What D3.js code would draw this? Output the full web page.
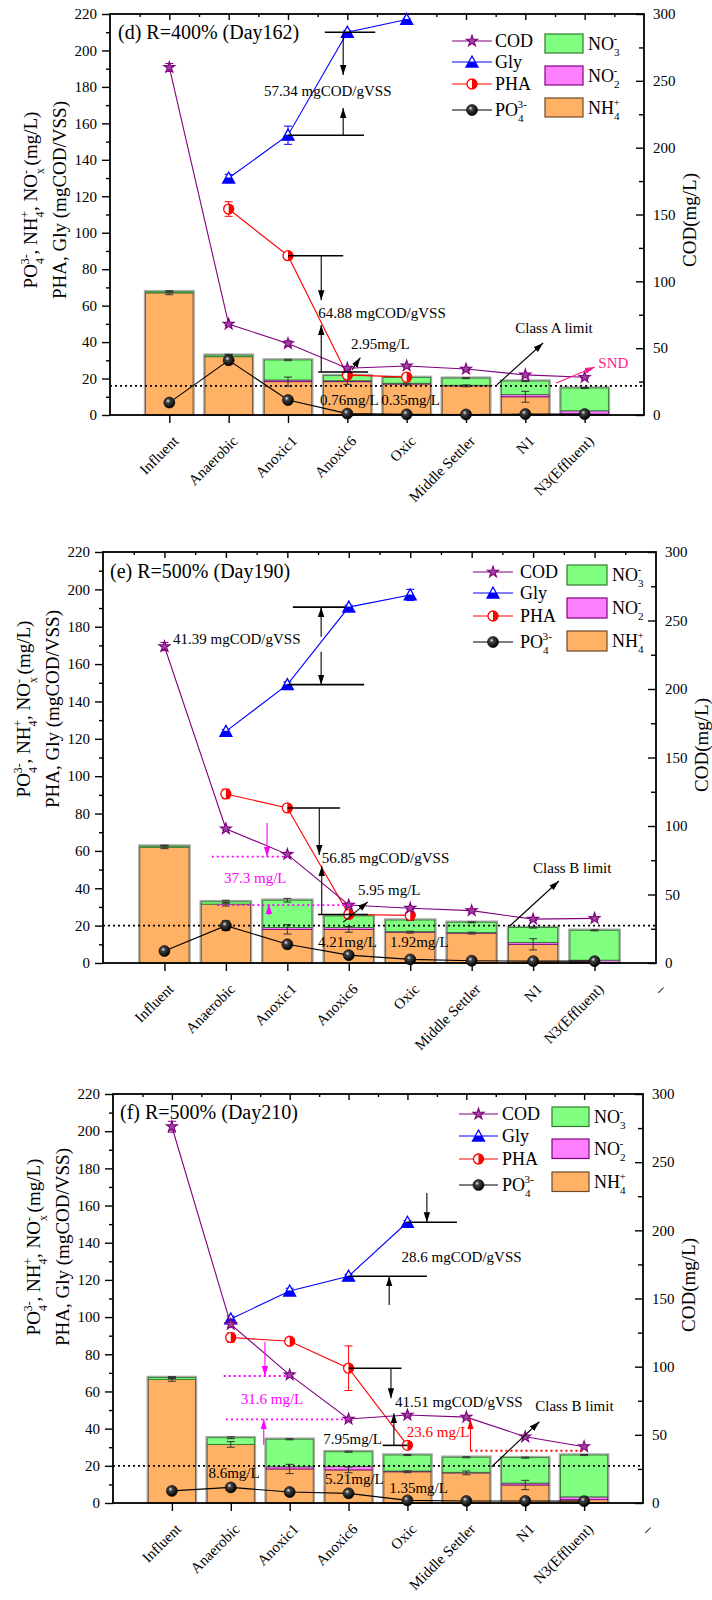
<!DOCTYPE html>
<html>
<head>
<meta charset="utf-8">
<script src="https://cdn.jsdelivr.net/npm/d3@7"></script>
<style>
  body { margin: 0; background: #fff; }
  svg { display: block; }
  text { font-family: "Liberation Serif", "Times New Roman", "DejaVu Serif", serif; fill: #000; }
</style>
</head>
<body>
<svg id="chart" width="712" height="1600" font-family="Liberation Serif, Times New Roman, DejaVu Serif, serif"></svg>
<script>
const cats = ["Influent", "Anaerobic", "Anoxic1", "Anoxic6", "Oxic", "Middle Settler", "N1", "N3(Effluent)"];
const leftTicks = [0, 20, 40, 60, 80, 100, 120, 140, 160, 180, 200, 220];
const rightTicks = [0, 50, 100, 150, 200, 250, 300];

// (d) R=400% Day162
const dNH4 = [67, 32, 18.3, 18.3, 17, 16, 10, 0.5];
const dNO2 = [0, 0, 0.9, 0.5, 0.4, 0.3, 1.2, 1.8];
const dNO3 = [0.6, 0.8, 11, 2.8, 3.2, 3.9, 7.4, 12.5];
const dNH4Err = [1, 1, 2.5, 1.5, 0.5, 0.5, 3, 0.3];
const dTotErr = [0.5, 0.5, 0.4, 0.5, 0.3, 0.3, 0.3, 0.3];
const dPO4 = [6.8, 30, 8.2, 0.76, 0.35, 0.3, 0.5, 0.5];
const dPO4Err = [0.5, 1.5, 1, 0.3, 0.2, 0.2, 0.2, 0.2];
const dPHA = [null, 113, 87.4, 22, 20.8, null, null, null];
const dPHAErr = [0, 4, 1, 1, 1, 0, 0, 0];
const dGly = [null, 130, 153.5, 210, 217, null, null, null];
const dGlyErr = [0, 2, 5, 1, 0.5, 0, 0, 0];
const dCOD = [260, 68, 53.5, 35, 36.7, 34.4, 30, 28.2];
const dCODErr = [3, 1, 2, 1, 1, 1, 1, 1];
const dLimit = 16;

// (e) R=500% Day190
const eNH4 = [62, 31.5, 18, 18, 16.5, 16, 10, 0.3];
const eNO2 = [0, 0, 1, 1, 0.3, 0.3, 1, 1.2];
const eNO3 = [0.6, 1.3, 14.6, 6.2, 6.2, 5.5, 8, 16];
const eNH4Err = [0.8, 1, 2.5, 1.5, 0.5, 0.5, 3, 0.3];
const eTotErr = [0.5, 0.8, 1, 0.5, 0.3, 0.3, 0.3, 0.3];
const ePO4 = [6.4, 20, 10, 4.21, 1.92, 1.2, 1, 1];
const ePO4Err = [0.5, 2.5, 1, 0.5, 0.3, 0.2, 0.2, 0.2];
const ePHA = [null, 90.5, 83, 26, 25.5, null, null, null];
const ePHAErr = [0, 2.5, 1, 1, 1, 0, 0, 0];
const eGly = [null, 124, 149, 190.5, 197, null, null, null];
const eGlyErr = [0, 1, 1.5, 1, 3, 0, 0, 0];
const eCOD = [231, 98, 79.3, 42.3, 40, 38.2, 32, 32.6];
const eCODErr = [3, 1, 1.5, 1, 1, 1, 1, 1];
const eLimit = 20;

// (f) R=500% Day210
const fNH4 = [66.5, 31.5, 18.3, 17.8, 16.8, 16.2, 9.7, 1.8];
const fNO2 = [0, 0, 1.2, 1.8, 0.4, 0.3, 1, 1.5];
const fNO3 = [1, 3.6, 14.8, 8, 8.6, 8.1, 13.7, 22.5];
const fNH4Err = [1, 1.5, 2.5, 1.5, 0.5, 1, 2.5, 0.5];
const fTotErr = [0.5, 0.5, 0.3, 0.3, 0.3, 0.3, 0.3, 0.3];
const fPO4 = [6.5, 8.4, 5.9, 5.2, 1.4, 1.1, 1.1, 1];
const fPO4Err = [0.5, 0.5, 0.5, 0.5, 0.3, 0.2, 0.2, 0.2];
const fPHA = [null, 89, 87, 72.5, 31, null, null, null];
const fPHAErr = [0, 2.5, 1, 12, 1, 0, 0, 0];
const fGly = [null, 99, 114, 122, 151, null, null, null];
const fGlyErr = [0, 1.5, 1.5, 1, 1, 0, 0, 0];
const fCOD = [276, 131, 94, 61.6, 64.5, 63, 48.6, 41.3];
const fCODErr = [4, 2, 1.5, 1, 1, 1, 1, 1];
const fLimit = 20;

const FONT = "Liberation Serif, Times New Roman, DejaVu Serif, serif";
const C = { cod: "#800080", gly: "#0000ff", pha: "#ff0000", po4: "#000", mag: "#ff00ff", snd: "#ff1a8c" };

const svg = d3.select("#chart");
const defs = svg.append("defs");
const grad = defs.append("radialGradient").attr("id", "ball")
  .attr("cx", "38%").attr("cy", "35%").attr("r", "65%");
grad.append("stop").attr("offset", "0%").attr("stop-color", "#eee");
grad.append("stop").attr("offset", "28%").attr("stop-color", "#444");
grad.append("stop").attr("offset", "100%").attr("stop-color", "#000");
Object.entries({ k: "#000", m: C.mag, r: C.pha, s: C.snd }).forEach(([k, col]) => {
  defs.append("marker").attr("id", "ah-" + k).attr("viewBox", "0 -4 10 8")
    .attr("markerUnits", "userSpaceOnUse").attr("markerWidth", 10).attr("markerHeight", 8)
    .attr("refX", 10).attr("refY", 0).attr("orient", "auto")
    .append("path").attr("d", "M0,-3.2L10,0L0,3.2Z").attr("fill", col);
});

function rich(t, segs, fs) {
  let cur = 0;
  for (const [s, k, dx] of segs) {
    const off = k === "sub" ? fs * 0.35 : k === "sup" ? -fs * 0.42 : 0;
    const ts = t.append("tspan").attr("dy", off - cur).attr("font-size", k ? fs * 0.62 : fs).text(s);
    if (dx) ts.attr("dx", dx);
    cur = off;
  }
}

function star(g, cx, cy, col) {
  g.append("path").attr("d", d3.symbol(d3.symbolStar).size(38)())
    .attr("transform", `translate(${cx},${cy})`)
    .attr("fill", "#a048a0").attr("stroke", col).attr("stroke-width", 1.1);
}
function tri(g, cx, cy, col) {
  g.append("path").attr("d", `M${cx},${cy - 6}L${cx + 6},${cy + 5}L${cx - 6},${cy + 5}Z`)
    .attr("fill", "#fff").attr("stroke", col).attr("stroke-width", 1.3);
  g.append("path").attr("d", `M${cx - 3},${cy - 0.5}L${cx + 3},${cy - 0.5}L${cx + 6},${cy + 5}L${cx - 6},${cy + 5}Z`)
    .attr("fill", col);
}
function half(g, cx, cy, col) {
  g.append("circle").attr("cx", cx).attr("cy", cy).attr("r", 5)
    .attr("fill", "#fff").attr("stroke", col).attr("stroke-width", 1.3);
  g.append("path").attr("d", `M${cx},${cy - 5}A5,5 0 0 1 ${cx},${cy + 5}Z`).attr("fill", col);
}
function ball(g, cx, cy) {
  g.append("circle").attr("cx", cx).attr("cy", cy).attr("r", 5.5)
    .attr("fill", "url(#ball)").attr("stroke", "#000").attr("stroke-width", 0.6);
}
const markFns = { cod: star, gly: tri, pha: half, po4: (g, cx, cy) => ball(g, cx, cy) };

const PO4seg = [["PO"], ["4", "sub"], ["3-", "sup", -6]];
const NH4seg = [["NH"], ["4", "sub"], ["+", "sup", -6]];
const NO3seg = [["NO"], ["3", "sub"], ["-", "sup", -6]];
const NO2seg = [["NO"], ["2", "sub"], ["-", "sup", -6]];

const panels = [
  {
    title: "(d) R=400% (Day162)", L: 110, R: 644, T: 14, B: 415, dash: false,
    nh4: dNH4, no2: dNO2, no3: dNO3, nh4Err: dNH4Err, totErr: dTotErr,
    po4: dPO4, po4Err: dPO4Err, pha: dPHA, phaErr: dPHAErr, gly: dGly, glyErr: dGlyErr,
    cod: dCOD, codErr: dCODErr, limit: dLimit,
    titlePos: [118, 39], yTitleC: 200, y2TitleC: 220,
    leg: { lx: [452, 492], tx: 495, sy: [41, 62, 84, 110], bx: [545, 583], by: [34, 66, 98], bh: 19, btx: 588 },
    notes: [
      ["line", 3.62, 210, 4.47, 210], ["line", 3, 153.5, 4.28, 153.5],
      ["arrow", 3.93, 210, 3.93, 186.5], ["arrow", 3.93, 153.5, 3.93, 168.4],
      ["text", 3.67, 175, "57.34 mgCOD/gVSS", "#000", "middle"],
      ["line", 3, 87.4, 3.93, 87.4], ["line", 3.51, 23.6, 4.35, 23.6],
      ["arrow", 3.56, 87.4, 3.56, 63], ["arrow", 3.56, 23.6, 3.56, 49.4],
      ["text", 3.51, 53.2, "64.88 mgCOD/gVSS"],
      ["text", 4.06, 36.2, "2.95mg/L"], ["arrow", 4.08, 24.7, 4.22, 31.5],
      ["text", 3.54, 5.5, "0.76mg/L"], ["text", 4.57, 5.5, "0.35mg/L"],
      ["text", 6.83, 45, "Class A limit"], ["arrow", 6.52, 16.5, 7.3, 39.5],
      ["text", 8.23, 25.8, "SND", C.snd], ["arrow", 7.52, 17.6, 8.17, 26.3, C.snd, "s"]
    ]
  },
  {
    title: "(e) R=500% (Day190)", L: 103, R: 656, T: 552, B: 963, dash: true,
    nh4: eNH4, no2: eNO2, no3: eNO3, nh4Err: eNH4Err, totErr: eTotErr,
    po4: ePO4, po4Err: ePO4Err, pha: ePHA, phaErr: ePHAErr, gly: eGly, glyErr: eGlyErr,
    cod: eCOD, codErr: eCODErr, limit: eLimit,
    titlePos: [110, 578], yTitleC: 709, y2TitleC: 745,
    leg: { lx: [473, 513], tx: 520, sy: [572, 593, 616, 642], bx: [567, 607], by: [565, 598, 631], bh: 20, btx: 612 },
    notes: [
      ["line", 3.09, 190.5, 3.94, 190.5], ["line", 3, 149, 4.25, 149],
      ["arrow", 3.55, 174.7, 3.55, 190.5], ["arrow", 3.55, 166.6, 3.55, 149],
      ["text", 1.14, 171, "41.39 mgCOD/gVSS"],
      ["line", 3, 83, 3.86, 83], ["line", 3.5, 26, 4.31, 26],
      ["arrow", 3.52, 83, 3.52, 57.8], ["arrow", 3.56, 26, 3.56, 51.9],
      ["text", 3.56, 53.5, "56.85 mgCOD/gVSS"],
      ["dots", 1.77, 56.9, 3.0, 56.9, C.mag], ["dots", 1.86, 31, 4.07, 31, C.mag],
      ["arrow", 2.67, 74.9, 2.67, 56.9, C.mag, "m"], ["arrow", 2.7, 25.5, 2.7, 31.5, C.mag, "m"],
      ["text", 1.97, 42.7, "37.3 mg/L", C.mag],
      ["text", 4.15, 36.4, "5.95 mg/L"], ["arrow", 3.91, 21.9, 4.31, 32.7],
      ["text", 3.5, 8.7, "4.21mg/L"], ["text", 4.67, 8.7, "1.92mg/L"],
      ["text", 7.0, 48.2, "Class B limit"], ["arrow", 6.62, 19.8, 7.42, 43.9]
    ]
  },
  {
    title: "(f) R=500% (Day210)", L: 113, R: 643, T: 1094, B: 1503, dash: true,
    nh4: fNH4, no2: fNO2, no3: fNO3, nh4Err: fNH4Err, totErr: fTotErr,
    po4: fPO4, po4Err: fPO4Err, pha: fPHA, phaErr: fPHAErr, gly: fGly, glyErr: fGlyErr,
    cod: fCOD, codErr: fCODErr, limit: fLimit,
    titlePos: [120, 1119], yTitleC: 1247, y2TitleC: 1285,
    leg: { lx: [459, 498], tx: 502, sy: [1114, 1136, 1159, 1185], bx: [552, 589], by: [1107, 1139, 1172], bh: 19.5, btx: 594 },
    notes: [
      ["line", 5, 151, 5.84, 151], ["line", 4, 122, 5.33, 122],
      ["arrow", 5.33, 166.8, 5.33, 151], ["arrow", 4.69, 106.5, 4.69, 122],
      ["text", 4.9, 129.8, "28.6 mgCOD/gVSS"],
      ["dots", 1.88, 68.3, 3, 68.3, C.mag], ["dots", 1.92, 45, 4, 45, C.mag],
      ["arrow", 2.58, 86.8, 2.58, 68.3, C.mag, "m"], ["arrow", 2.56, 31.2, 2.56, 45, C.mag, "m"],
      ["text", 2.17, 53.3, "31.6 mg/L", C.mag],
      ["line", 4, 72.5, 4.9, 72.5], ["line", 4.58, 31, 5, 31],
      ["arrow", 4.72, 72.5, 4.72, 56.3], ["arrow", 4.77, 31, 4.77, 48.3],
      ["text", 4.79, 51.5, "41.51 mgCOD/gVSS"],
      ["text", 4.99, 35.3, "23.6 mg/L", C.pha],
      ["dots", 6.07, 28.1, 8, 28.1, C.pha], ["arrow", 6.07, 28.1, 6.07, 45, C.pha, "r"],
      ["text", 3.57, 31.7, "7.95mg/L"], ["text", 1.62, 13.3, "8.6mg/L"],
      ["text", 3.6, 10.2, "5.21mg/L"], ["text", 4.69, 5.5, "1.35mg/L"],
      ["text", 7.17, 49.6, "Class B limit"], ["arrow", 6.43, 19.5, 7.24, 43.7]
    ]
  }
];

function errBar(g, cx, y0, y1, col, cap) {
  if (Math.abs(y1 - y0) < 0.5) return;
  g.append("line").attr("x1", cx).attr("x2", cx).attr("y1", y0).attr("y2", y1).attr("stroke", col).attr("stroke-width", 1);
  [y0, y1].forEach(yy => g.append("line").attr("x1", cx - cap).attr("x2", cx + cap)
    .attr("y1", yy).attr("y2", yy).attr("stroke", col).attr("stroke-width", 1));
}

function drawPanel(p) {
  const x = d3.scaleLinear().domain([0, 9]).range([p.L, p.R]);
  const y = d3.scaleLinear().domain([0, 220]).range([p.B, p.T]);
  const y2 = d3.scaleLinear().domain([0, 300]).range([p.B, p.T]);
  const bw = (x(1) - x(0)) * 0.8;
  const g = svg.append("g");

  // stacked bars
  const rows = cats.map((c, i) => ({ i, nh4: p.nh4[i], no2: p.no2[i], no3: p.no3[i] }));
  const stacked = d3.stack().keys(["nh4", "no2", "no3"])(rows);
  const fills = { nh4: "#ffb266", no2: "#ff80ff", no3: "#80ff80" };
  const strokes = { nh4: "#6e4a28", no2: "#800080", no3: "#2f7a2f" };
  rows.forEach(r => {
    const top = r.nh4 + r.no2 + r.no3;
    g.append("rect").attr("x", x(r.i + 1) - bw / 2 - 1).attr("y", y(top) - 1)
      .attr("width", bw + 2).attr("height", y(0) - y(top) + 1)
      .attr("fill", "none").attr("stroke", "#aaa").attr("stroke-width", 1.6);
  });
  stacked.forEach(s => {
    g.selectAll(null).data(s.filter(d => d[1] - d[0] > 0)).enter().append("rect")
      .attr("x", d => x(d.data.i + 1) - bw / 2)
      .attr("y", d => y(d[1]))
      .attr("width", bw)
      .attr("height", d => y(d[0]) - y(d[1]))
      .attr("fill", fills[s.key]).attr("stroke", strokes[s.key]).attr("stroke-width", 0.9);
  });
  rows.forEach(r => {
    const cx = x(r.i + 1), top = r.nh4 + r.no2 + r.no3;
    errBar(g, cx, y(r.nh4 - p.nh4Err[r.i]), y(r.nh4 + p.nh4Err[r.i]), "#333", 4);
    errBar(g, cx, y(top - p.totErr[r.i]), y(top + p.totErr[r.i]), "#333", 4);
  });

  // limit line
  g.append("line").attr("x1", x(0)).attr("x2", x(9)).attr("y1", y(p.limit)).attr("y2", y(p.limit))
    .attr("stroke", "#000").attr("stroke-width", 1.8).attr("stroke-dasharray", "2,3");

  // axes
  const ax = g.append("g").attr("transform", `translate(${p.L},0)`)
    .call(d3.axisLeft(y).tickValues(leftTicks).tickSize(8).tickPadding(5));
  g.append("g").attr("transform", `translate(${p.L},0)`)
    .call(d3.axisLeft(y).tickValues(d3.range(10, 220, 20)).tickSize(4).tickFormat(""));
  const ax2 = g.append("g").attr("transform", `translate(${p.R},0)`)
    .call(d3.axisRight(y2).tickValues(rightTicks).tickSize(-8).tickPadding(9));
  g.append("g").attr("transform", `translate(${p.R},0)`)
    .call(d3.axisRight(y2).tickValues(d3.range(25, 300, 50)).tickSize(-5).tickFormat(""));
  g.append("g").attr("transform", `translate(0,${p.B})`)
    .call(d3.axisBottom(x).tickValues(d3.range(1, 9)).tickSize(8).tickFormat(""));
  g.append("g").attr("transform", `translate(0,${p.T})`)
    .call(d3.axisBottom(x).tickValues(d3.range(1, 9)).tickSize(6).tickFormat(""));
  g.append("g").attr("transform", `translate(0,${p.T})`)
    .call(d3.axisBottom(x).tickValues(d3.range(0.5, 9, 1)).tickSize(3).tickFormat(""));
  g.selectAll(".domain").remove();
  g.selectAll(".tick line").attr("stroke", "#000").attr("stroke-width", 1.4);
  [ax, ax2].forEach(a => a.attr("font-family", FONT).attr("font-size", 15));
  g.selectAll(".tick text").attr("fill", "#000");
  g.append("rect").attr("x", p.L).attr("y", p.T).attr("width", p.R - p.L).attr("height", p.B - p.T)
    .attr("fill", "none").attr("stroke", "#000").attr("stroke-width", 1.8);

  // category labels
  const labs = p.dash ? cats.concat(["–"]) : cats;
  labs.forEach((c, i) => {
    g.append("text").attr("transform", `translate(${x(i + 1) + 10},${p.B + 27}) rotate(-45)`)
      .attr("text-anchor", "end").attr("font-size", 15).text(c);
  });

  // axis titles
  const t1 = g.append("text").attr("text-anchor", "middle")
    .attr("transform", `translate(${p.L - 73},${p.yTitleC}) rotate(-90)`);
  rich(t1, PO4seg.concat([[", NH"], ["4", "sub"], ["+", "sup", -6], [", NO"], ["x", "sub"], ["-", "sup", -6], ["\u00a0(mg/L)"]]), 19);
  g.append("text").attr("text-anchor", "middle").attr("font-size", 19)
    .attr("transform", `translate(${p.L - 44},${p.yTitleC}) rotate(-90)`).text("PHA, Gly (mgCOD/VSS)");
  g.append("text").attr("text-anchor", "middle").attr("font-size", 19)
    .attr("transform", `translate(${p.R + 52},${p.y2TitleC}) rotate(-90)`).text("COD(mg/L)");

  // series lines with markers
  const series = [
    { k: "po4", v: p.po4, e: p.po4Err, s: y, col: C.po4 },
    { k: "pha", v: p.pha, e: p.phaErr, s: y, col: C.pha },
    { k: "gly", v: p.gly, e: p.glyErr, s: y, col: C.gly },
    { k: "cod", v: p.cod, e: p.codErr, s: y2, col: C.cod }
  ];
  series.forEach(se => {
    const line = d3.line().defined(v => v != null).x((v, i) => x(i + 1)).y(v => se.s(v));
    g.append("path").attr("d", line(se.v)).attr("fill", "none").attr("stroke", se.col).attr("stroke-width", 1.1);
    se.v.forEach((v, i) => {
      if (v == null) return;
      errBar(g, x(i + 1), se.s(v - se.e[i]), se.s(v + se.e[i]), se.col, 4);
    });
    se.v.forEach((v, i) => {
      if (v == null) return;
      markFns[se.k](g, x(i + 1), se.s(v), se.col);
    });
  });

  // annotations (positions in data units)
  p.notes.forEach(n => {
    const [type] = n;
    if (type === "line" || type === "dots") {
      g.append("line").attr("x1", x(n[1])).attr("y1", y(n[2])).attr("x2", x(n[3])).attr("y2", y(n[4]))
        .attr("stroke", n[5] || "#000").attr("stroke-width", type === "dots" ? 1.8 : 1.6)
        .attr("stroke-dasharray", type === "dots" ? "2,3" : null);
    } else if (type === "arrow") {
      g.append("line").attr("x1", x(n[1])).attr("y1", y(n[2])).attr("x2", x(n[3])).attr("y2", y(n[4]))
        .attr("stroke", n[5] || "#000").attr("stroke-width", 1.1)
        .attr("marker-end", `url(#ah-${n[6] || "k"})`);
    } else {
      g.append("text").attr("x", x(n[1])).attr("y", y(n[2])).attr("font-size", 15)
        .attr("text-anchor", n[5] || "start").style("fill", n[4] || "#000").text(n[3]);
    }
  });

  // panel title
  g.append("text").attr("x", p.titlePos[0]).attr("y", p.titlePos[1]).attr("font-size", 20).text(p.title);

  // legend
  const L = p.leg;
  const items = [
    { k: "cod", col: C.cod, lab: [["COD"]] },
    { k: "gly", col: C.gly, lab: [["Gly"]] },
    { k: "pha", col: C.pha, lab: [["PHA"]] },
    { k: "po4", col: C.po4, lab: PO4seg }
  ];
  items.forEach((it, i) => {
    const sy = L.sy[i];
    g.append("line").attr("x1", L.lx[0]).attr("x2", L.lx[1]).attr("y1", sy).attr("y2", sy)
      .attr("stroke", it.col).attr("stroke-width", 1.1);
    markFns[it.k](g, (L.lx[0] + L.lx[1]) / 2, sy, it.col);
    rich(g.append("text").attr("x", L.tx).attr("y", sy + 6), it.lab, 18);
  });
  const boxes = [
    { k: "no3", lab: NO3seg }, { k: "no2", lab: NO2seg }, { k: "nh4", lab: NH4seg }
  ];
  boxes.forEach((b, i) => {
    g.append("rect").attr("x", L.bx[0]).attr("y", L.by[i]).attr("width", L.bx[1] - L.bx[0]).attr("height", L.bh)
      .attr("fill", fills[b.k]).attr("stroke", strokes[b.k]).attr("stroke-width", 1.2);
    rich(g.append("text").attr("x", L.btx).attr("y", L.by[i] + L.bh / 2 + 6), b.lab, 18);
  });
}

panels.forEach(drawPanel);
svg.selectAll("text").attr("font-family", FONT);
</script>
</body>
</html>
